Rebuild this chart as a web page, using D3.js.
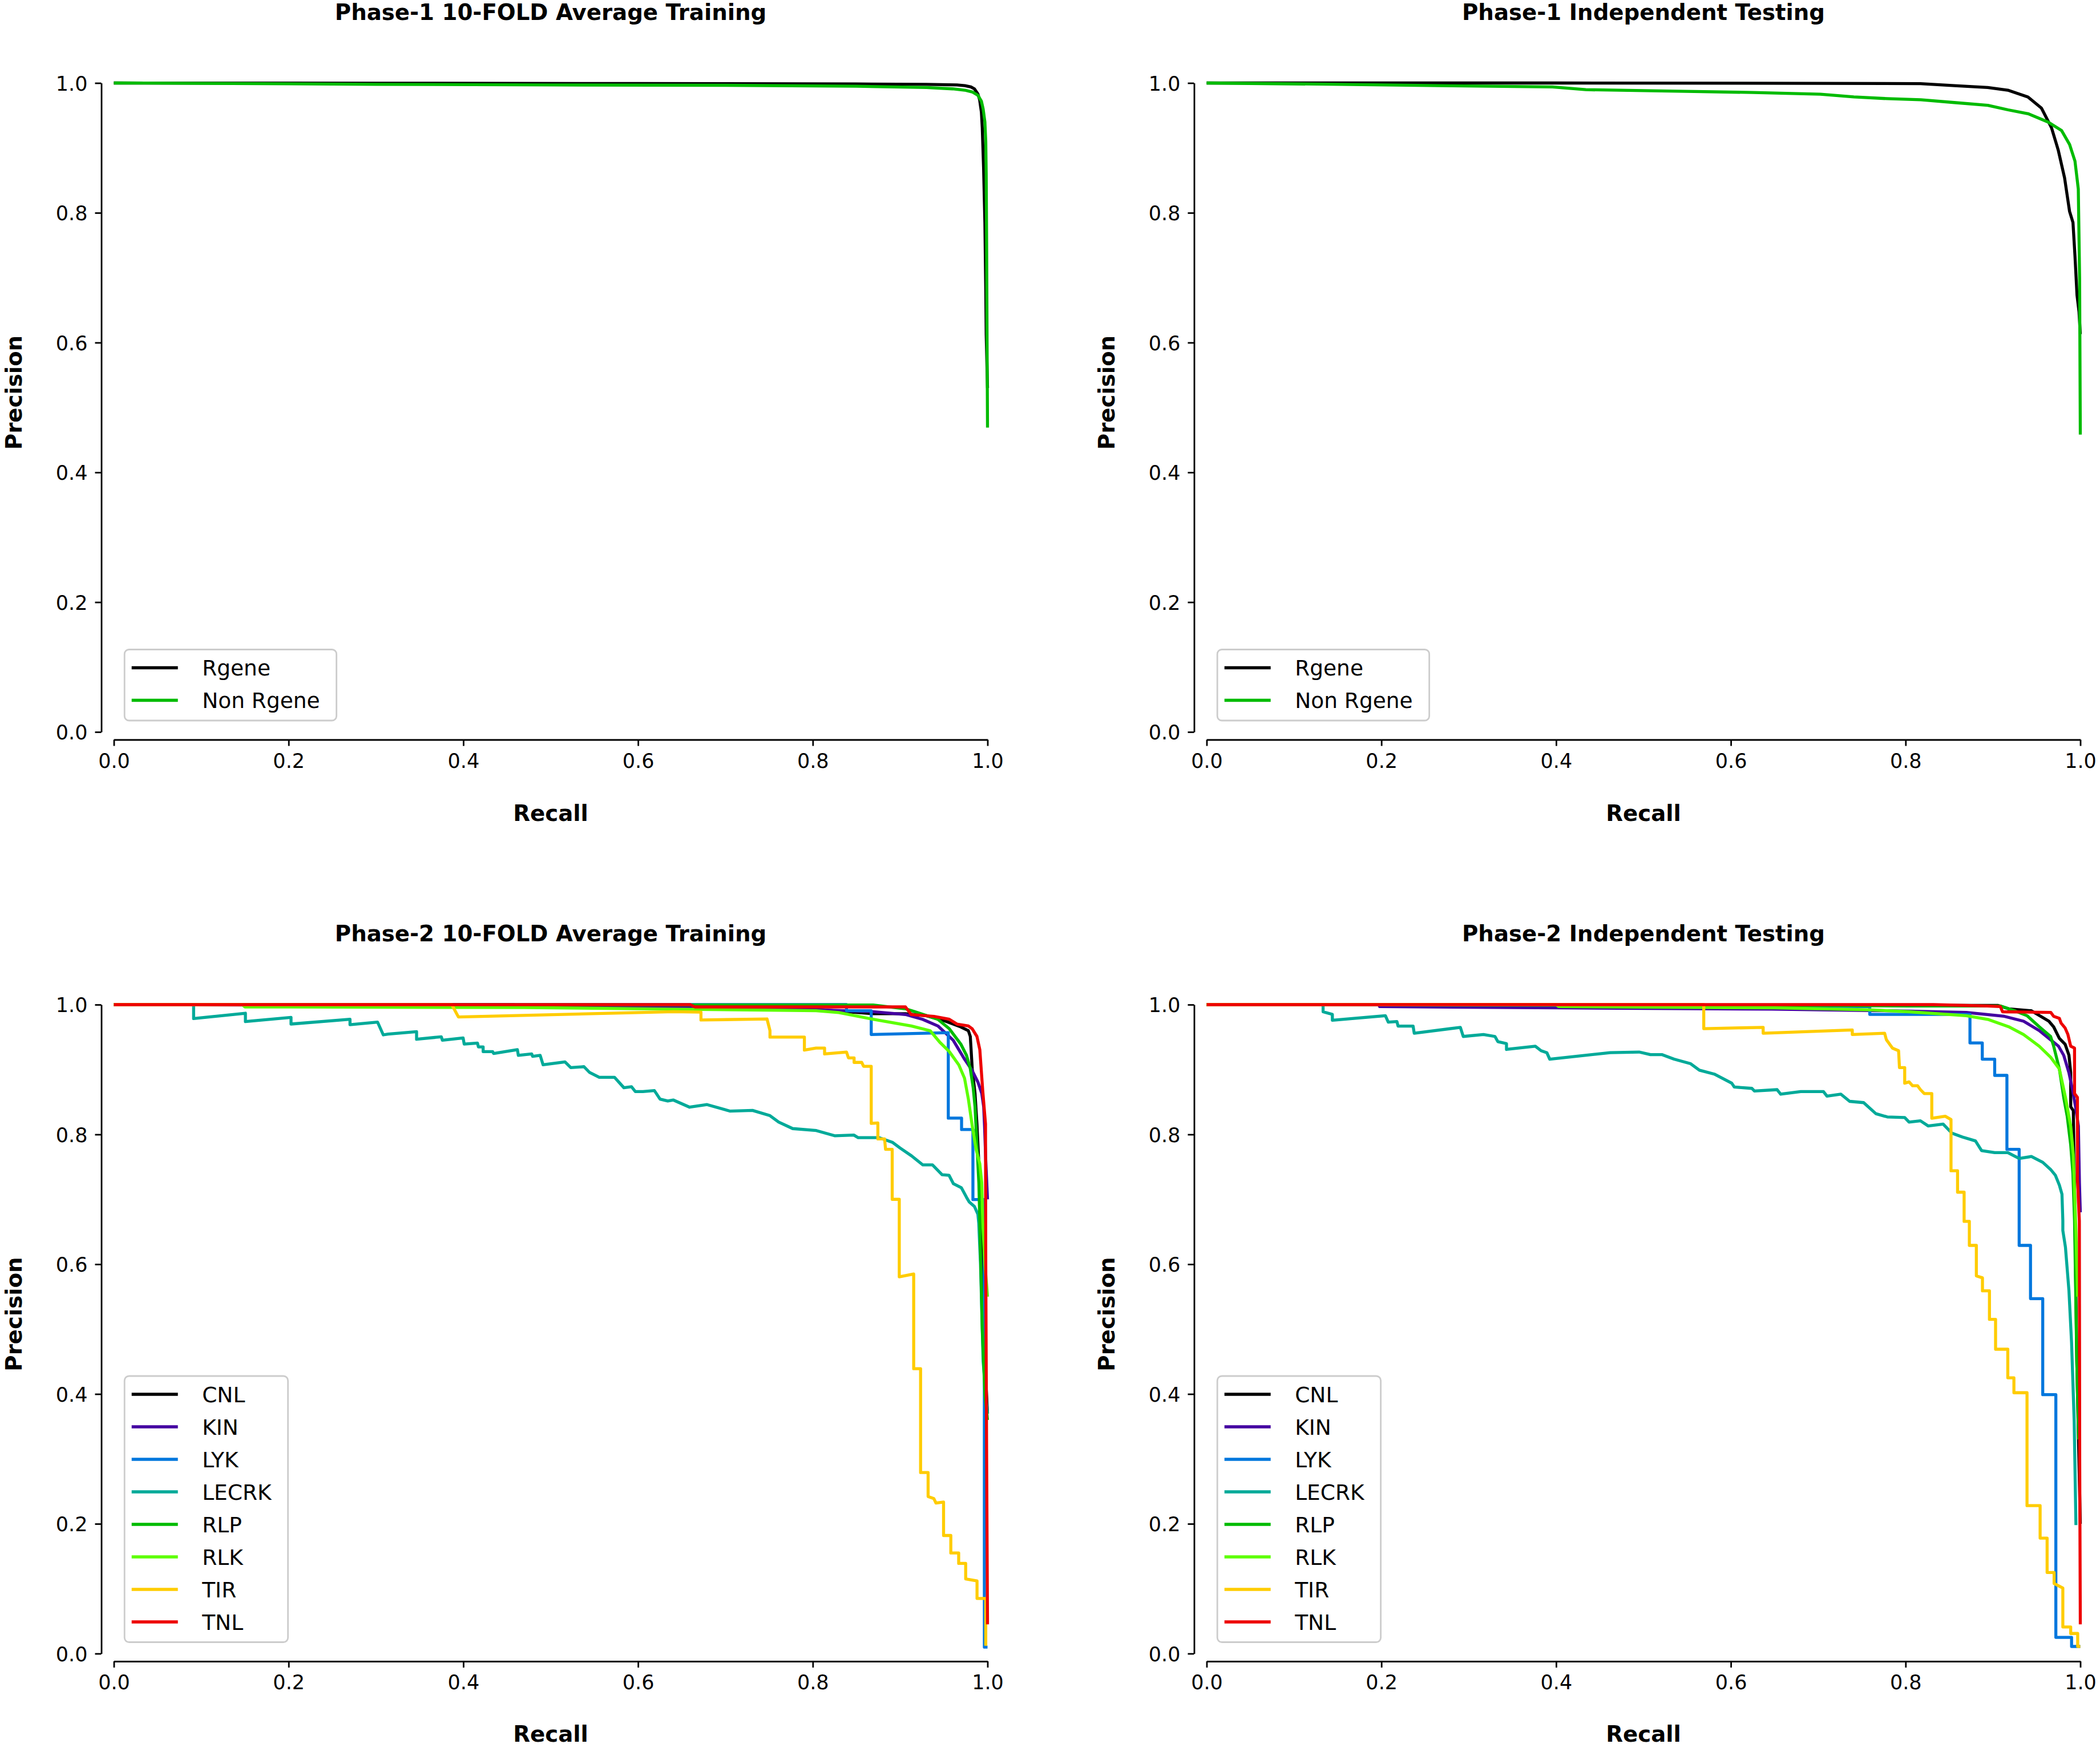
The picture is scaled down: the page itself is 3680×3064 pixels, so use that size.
<!DOCTYPE html>
<html>
<head>
<meta charset="utf-8">
<script src="https://cdn.jsdelivr.net/npm/d3@7"></script>
<style>
  body { margin: 0; background: #fff; }
  svg { display: block; }
</style>
</head>
<body>
<svg id="chart" width="3680" height="3064"></svg>
<script>
// ── categories & colours ─────────────────────────────────────────────────────
const phase1Classes = ['Rgene', 'Non Rgene'];
const phase1Colors = ['#000000', '#00bb00'];
const phase2Classes = ['CNL', 'KIN', 'LYK', 'LECRK', 'RLP', 'RLK', 'TIR', 'TNL'];
const phase2Colors = ['#000000', '#4400a1', '#0077dd', '#00aa99', '#00bb00', '#5dff00', '#ffcc00', '#ee0000'];

const axisTicks = [0, 0.2, 0.4, 0.6, 0.8, 1.0];

// ── series: [recall, precision] ─────────────────────────────────────────────
const p1TrainRgene = [[0,1],[0.3,0.9997],[0.6,0.9992],[0.85,0.9985],[0.93,0.998],[0.965,0.997],[0.974,0.996],
  [0.981,0.994],[0.985,0.991],[0.989,0.983],[0.991,0.974],[0.993,0.955],[0.994,0.931],[0.9955,0.87],[0.997,0.785],
  [0.998,0.68],[0.9985,0.613],[1.0,0.53]];
const p1TrainNonRgene = [[0,1],[0.1,0.9995],[0.3,0.998],[0.5,0.997],[0.7,0.9965],[0.85,0.995],[0.93,0.993],
  [0.96,0.991],[0.974,0.989],[0.983,0.986],[0.989,0.981],[0.993,0.972],[0.995,0.96],[0.997,0.94],[0.998,0.91],
  [0.9985,0.86],[0.999,0.75],[0.9995,0.6],[1.0,0.469]];

const p1TestRgene = [[0,1],[0.4,1.0],[0.7,0.9995],[0.817,0.999],[0.856,0.996],[0.894,0.993],[0.917,0.989],
  [0.94,0.9785],[0.9555,0.9613],[0.967,0.9312],[0.9747,0.8968],[0.982,0.8538],[0.9877,0.8022],[0.9916,0.785],
  [0.9939,0.7334],[0.9962,0.6733],[0.9985,0.6475],[1.0,0.613]];
const p1TestNonRgene = [[0,1],[0.127,0.9983],[0.2807,0.9957],[0.3957,0.994],[0.434,0.9897],[0.549,0.9871],
  [0.6258,0.9854],[0.7025,0.9828],[0.7408,0.9785],[0.7791,0.9759],[0.8175,0.9742],[0.8558,0.9699],[0.8942,0.9656],
  [0.9172,0.9587],[0.9402,0.9527],[0.9632,0.9398],[0.9785,0.9269],[0.9877,0.9054],[0.9939,0.8796],[0.9977,0.8366],
  [0.9992,0.699],[1.0,0.4583]];

const p2TrainCNL = [[0,1],[0.458,1],[0.462,0.9965],[0.4706,0.9965],[0.6,0.996],[0.8,0.993],[0.869,0.986],
  [0.906,0.986],[0.93,0.983],[0.952,0.9745],[0.9694,0.9657],[0.9781,0.9598],[0.9803,0.951],[0.9825,0.9013],
  [0.9857,0.8632],[0.9879,0.8163],[0.9901,0.7545],[0.994,0.6],[0.997,0.45],[1.0,0.37]];
const p2TrainKIN = [[0,1],[0.3,0.999],[0.6,0.997],[0.8037,0.992],[0.8691,0.9892],[0.9061,0.9848],[0.9257,0.9774],
  [0.9432,0.9672],[0.9607,0.9452],[0.9737,0.916],[0.9825,0.8984],[0.989,0.8807],[0.9934,0.8632],[0.9956,0.8427],
  [0.9966,0.8134],[0.998,0.76],[1.0,0.7]];
const p2TrainLYK = [[0,1],[0.8386,1],[0.8386,0.9907],[0.8669,0.9907],[0.8669,0.954],[0.9551,0.9569],[0.9551,0.8251],
  [0.9703,0.8251],[0.9703,0.8075],[0.9833,0.8075],[0.9833,0.6996],[0.9964,0.6996],[0.9964,0.01],[1.0,0.01]];
const p2TrainLECRK = [[0,1],[0.0913,1],[0.0913,0.9785],[0.1506,0.9868],[0.1506,0.9739],[0.2028,0.9804],
  [0.2028,0.9701],[0.2703,0.9774],[0.2703,0.9692],[0.3019,0.973],[0.3084,0.9534],[0.3138,0.9546],[0.3465,0.9584],
  [0.3465,0.9467],[0.3748,0.9505],[0.376,0.9452],[0.3998,0.9487],[0.401,0.9393],[0.4162,0.9408],[0.4173,0.9349],
  [0.4227,0.9349],[0.4227,0.9276],[0.4336,0.9276],[0.4347,0.9247],[0.4619,0.9306],[0.463,0.9218],[0.4783,0.9241],
  [0.4793,0.9203],[0.488,0.9218],[0.4913,0.9073],[0.5164,0.9117],[0.523,0.9029],[0.5381,0.9044],[0.5446,0.8954],
  [0.5556,0.8881],[0.573,0.8881],[0.5838,0.872],[0.5925,0.8735],[0.5969,0.8661],[0.6056,0.8661],[0.6187,0.8676],
  [0.6252,0.8544],[0.634,0.8515],[0.6405,0.853],[0.659,0.842],[0.679,0.846],[0.705,0.836],[0.731,0.837],
  [0.751,0.829],[0.761,0.819],[0.777,0.809],[0.804,0.806],[0.825,0.798],[0.847,0.799],[0.852,0.795],[0.876,0.795],
  [0.891,0.788],[0.9,0.779],[0.913,0.767],[0.926,0.753],[0.937,0.753],[0.948,0.738],[0.956,0.737],[0.961,0.724],
  [0.97,0.718],[0.976,0.703],[0.979,0.696],[0.985,0.689],[0.989,0.677],[0.99,0.663],[0.992,0.6],[0.995,0.45],[1.0,0.37]];
const p2TrainRLP = [[0,1],[0.6,0.9995],[0.8037,0.9994],[0.8691,0.9994],[0.9061,0.9936],[0.9167,0.9892],
  [0.9432,0.9774],[0.9563,0.9628],[0.9694,0.9393],[0.976,0.9218],[0.9803,0.9013],[0.9836,0.872],[0.9857,0.8427],
  [0.9879,0.784],[0.9901,0.7252],[0.9912,0.6665],[0.994,0.5],[0.997,0.4],[1.0,0.36]];
const p2TrainRLK = [[0,1],[0.147,1],[0.15,0.9965],[0.47,0.9955],[0.64,0.993],[0.8037,0.9907],[0.8298,0.9878],
  [0.8691,0.9774],[0.9127,0.9672],[0.9344,0.9598],[0.9453,0.9422],[0.9563,0.9276],[0.9672,0.907],[0.9737,0.8866],
  [0.9781,0.8544],[0.9825,0.8134],[0.9868,0.7782],[0.9912,0.7545],[0.9934,0.7252],[0.9945,0.6665],[0.997,0.6],
  [1.0,0.55]];
const p2TrainTIR = [[0,1],[0.3868,1],[0.3944,0.981],[0.6404,0.9892],[0.672,0.9884],[0.672,0.9763],[0.7476,0.978],
  [0.751,0.96],[0.751,0.95],[0.7904,0.95],[0.7904,0.93],[0.8037,0.933],[0.8135,0.933],[0.8135,0.924],[0.8386,0.927],
  [0.8408,0.918],[0.8473,0.918],[0.8473,0.911],[0.856,0.911],[0.8582,0.905],[0.8669,0.905],[0.8669,0.817],
  [0.8745,0.8177],[0.8745,0.793],[0.8822,0.793],[0.8833,0.777],[0.8909,0.777],[0.8909,0.7],[0.899,0.7],
  [0.899,0.5806],[0.9155,0.585],[0.9155,0.439],[0.9234,0.439],[0.9234,0.279],[0.932,0.279],[0.932,0.242],
  [0.9385,0.239],[0.941,0.232],[0.9497,0.2335],[0.9497,0.182],[0.958,0.182],[0.958,0.155],[0.967,0.155],
  [0.967,0.139],[0.975,0.139],[0.975,0.115],[0.988,0.112],[0.988,0.085],[0.998,0.085],[0.998,0.012]];
const p2TrainTNL = [[0,1],[0.66,1],[0.665,0.9965],[0.9061,0.9965],[0.9127,0.9848],[0.9388,0.9818],[0.9563,0.9774],
  [0.965,0.9701],[0.9781,0.9672],[0.9825,0.9628],[0.9879,0.951],[0.9912,0.9306],[0.9945,0.868],[0.9977,0.8163],
  [0.998,0.6],[0.999,0.3],[1.0,0.045]];

const p2TestCNL = [[0,1],[0.906,0.9987],[0.918,0.9936],[0.944,0.9906],[0.955,0.9818],[0.964,0.9745],
  [0.9695,0.9657],[0.976,0.948],[0.9826,0.939],[0.987,0.922],[0.989,0.8954],[0.989,0.8427],[0.992,0.8368],
  [0.9934,0.7108],[0.996,0.45],[1.0,0.2]];
const p2TestKIN = [[0,1],[0.197,1],[0.198,0.997],[0.403,0.995],[0.647,0.993],[0.759,0.991],[0.804,0.99],
  [0.8695,0.988],[0.913,0.982],[0.935,0.9745],[0.953,0.96],[0.964,0.948],[0.975,0.936],[0.981,0.922],[0.987,0.895],
  [0.9915,0.866],[0.9945,0.843],[0.9978,0.813],[0.999,0.725],[1.0,0.68]];
const p2TestLYK = [[0,1],[0.5,0.999],[0.759,0.997],[0.759,0.985],[0.8737,0.985],[0.8737,0.941],[0.8878,0.941],
  [0.8878,0.916],[0.902,0.916],[0.902,0.891],[0.916,0.891],[0.916,0.777],[0.93,0.777],[0.93,0.629],[0.943,0.629],
  [0.943,0.547],[0.957,0.547],[0.957,0.399],[0.972,0.399],[0.972,0.025],[0.99,0.025],[0.99,0.011],[1.0,0.011]];
const p2TestLECRK = [[0,1],[0.1333,1],[0.1333,0.989],[0.1439,0.985],[0.1439,0.976],[0.2046,0.983],[0.2079,0.973],
  [0.2178,0.974],[0.2191,0.967],[0.2363,0.967],[0.2376,0.956],[0.2904,0.965],[0.2937,0.951],[0.3168,0.954],
  [0.33,0.951],[0.3333,0.943],[0.3432,0.94],[0.3432,0.931],[0.3762,0.936],[0.3828,0.929],[0.3894,0.926],
  [0.3927,0.916],[0.462,0.926],[0.495,0.927],[0.508,0.923],[0.521,0.923],[0.535,0.916],[0.554,0.909],[0.564,0.899],
  [0.581,0.893],[0.591,0.886],[0.601,0.879],[0.604,0.873],[0.624,0.871],[0.627,0.867],[0.653,0.869],[0.657,0.862],
  [0.68,0.866],[0.706,0.866],[0.71,0.859],[0.726,0.862],[0.736,0.851],[0.752,0.849],[0.766,0.832],[0.779,0.827],
  [0.799,0.826],[0.804,0.819],[0.817,0.821],[0.826,0.813],[0.843,0.816],[0.853,0.802],[0.865,0.796],[0.88,0.79],
  [0.887,0.775],[0.902,0.772],[0.917,0.772],[0.93,0.763],[0.944,0.766],[0.957,0.757],[0.966,0.746],[0.9715,0.737],
  [0.976,0.722],[0.979,0.708],[0.98,0.667],[0.98,0.652],[0.983,0.626],[0.987,0.559],[0.99,0.479],[0.993,0.358],
  [0.995,0.198]];
const p2TestRLP = [[0,1],[0.6,0.999],[0.804,0.998],[0.9085,0.998],[0.926,0.99],[0.939,0.983],[0.953,0.966],
  [0.966,0.951],[0.9695,0.936],[0.976,0.901],[0.981,0.857],[0.985,0.828],[0.989,0.784],[0.9915,0.74],
  [0.9934,0.667],[0.996,0.45],[0.998,0.33]];
const p2TestRLK = [[0,1],[0.4,1],[0.403,0.997],[0.65,0.995],[0.76,0.992],[0.804,0.989],[0.8695,0.983],
  [0.895,0.977],[0.918,0.966],[0.935,0.954],[0.953,0.936],[0.966,0.919],[0.976,0.901],[0.983,0.857],[0.989,0.813],
  [0.992,0.769],[0.995,0.65],[0.997,0.55]];
const p2TestTIR = [[0,1],[0.569,1],[0.569,0.963],[0.637,0.965],[0.637,0.956],[0.739,0.961],[0.739,0.954],
  [0.776,0.956],[0.778,0.946],[0.785,0.933],[0.792,0.929],[0.793,0.903],[0.799,0.903],[0.799,0.879],[0.804,0.881],
  [0.808,0.875],[0.8137,0.875],[0.817,0.869],[0.8214,0.863],[0.83,0.863],[0.83,0.825],[0.8454,0.828],[0.852,0.823],
  [0.852,0.744],[0.8595,0.744],[0.8595,0.711],[0.867,0.711],[0.867,0.666],[0.873,0.666],[0.873,0.629],[0.881,0.629],
  [0.881,0.582],[0.888,0.579],[0.888,0.559],[0.896,0.559],[0.896,0.515],[0.903,0.515],[0.903,0.469],[0.917,0.469],
  [0.917,0.425],[0.924,0.425],[0.924,0.402],[0.939,0.402],[0.939,0.228],[0.954,0.228],[0.954,0.178],[0.962,0.178],
  [0.962,0.125],[0.97,0.125],[0.97,0.108],[0.98,0.101],[0.98,0.041],[0.989,0.041],[0.989,0.031],[0.997,0.031],
  [0.997,0.011],[1.0,0.011]];
const p2TestTNL = [[0,1],[0.832,1],[0.8935,0.998],[0.9085,0.997],[0.911,0.989],[0.9662,0.988],[0.9695,0.982],
  [0.976,0.979],[0.978,0.9716],[0.9826,0.964],[0.9858,0.954],[0.989,0.936],[0.9934,0.933],[0.9934,0.863],
  [0.9967,0.857],[0.9967,0.731],[0.9989,0.667],[0.9993,0.3],[1.0,0.045]];

// ── layout (px) ───────────────────────────────────────────────────────────────
const PANEL_W = 1531;
const PANEL_H = 1137.5;
const SPINE_DX = 22;     // left spine pushed out of the plot area
const SPINE_DY = 13.5;   // bottom spine pushed down
const TICK_LEN = 11;
const LINE_W = 5.3;
const FONT = 'DejaVu Sans, sans-serif';

const panels = [
  { title: 'Phase-1 10-FOLD Average Training', x0: 199.5, top: 145.5, titleY: 35, labelY: 1439,
    names: phase1Classes, colors: phase1Colors, series: [p1TrainRgene, p1TrainNonRgene] },
  { title: 'Phase-1 Independent Testing', x0: 2114.5, top: 145.5, titleY: 35, labelY: 1439,
    names: phase1Classes, colors: phase1Colors, series: [p1TestRgene, p1TestNonRgene] },
  { title: 'Phase-2 10-FOLD Average Training', x0: 199.5, top: 1761, titleY: 1650, labelY: 3053,
    names: phase2Classes, colors: phase2Colors,
    series: [p2TrainCNL, p2TrainKIN, p2TrainLYK, p2TrainLECRK, p2TrainRLP, p2TrainRLK, p2TrainTIR, p2TrainTNL] },
  { title: 'Phase-2 Independent Testing', x0: 2114.5, top: 1761, titleY: 1650, labelY: 3053,
    names: phase2Classes, colors: phase2Colors,
    series: [p2TestCNL, p2TestKIN, p2TestLYK, p2TestLECRK, p2TestRLP, p2TestRLK, p2TestTIR, p2TestTNL] },
];

const svg = d3.select('#chart');
svg.append('rect').attr('width', 3680).attr('height', 3064).attr('fill', '#fff');

const fmt = d3.format('.1f');

function drawPanel(p) {
  const x = d3.scaleLinear().domain([0, 1]).range([p.x0, p.x0 + PANEL_W]);
  const y = d3.scaleLinear().domain([0, 1]).range([p.top + PANEL_H, p.top]);
  const g = svg.append('g');

  // ── axes (trimmed, offset spines) ─────────────────────────────────────────
  const yAxis = g.append('g')
    .attr('transform', `translate(${p.x0 - SPINE_DX},0)`)
    .call(d3.axisLeft(y).tickValues(axisTicks).tickFormat(fmt).tickSize(TICK_LEN).tickSizeOuter(0).tickPadding(13));
  const xAxis = g.append('g')
    .attr('transform', `translate(0,${p.top + PANEL_H + SPINE_DY})`)
    .call(d3.axisBottom(x).tickValues(axisTicks).tickFormat(fmt).tickSize(TICK_LEN).tickSizeOuter(0).tickPadding(13.5));

  [yAxis, xAxis].forEach((ax) => {
    ax.selectAll('path, line').attr('stroke', '#000').attr('stroke-width', 2.8);
    ax.selectAll('text').attr('font-family', FONT).attr('font-size', 35).attr('fill', '#000');
  });
  yAxis.selectAll('text').attr('dy', '0.36em');

  // ── title & axis labels ───────────────────────────────────────────────────
  const midX = p.x0 + PANEL_W / 2;
  g.append('text')
    .attr('x', midX).attr('y', p.titleY)
    .attr('text-anchor', 'middle')
    .attr('font-family', FONT).attr('font-size', 38.7).attr('font-weight', 'bold')
    .text(p.title);

  g.append('text')
    .attr('x', midX).attr('y', p.labelY)
    .attr('text-anchor', 'middle')
    .attr('font-family', FONT).attr('font-size', 38.7).attr('font-weight', 'bold')
    .text('Recall');

  const ylx = p.x0 - 161.5;
  const yly = p.top + 542.5;
  g.append('text')
    .attr('transform', `translate(${ylx},${yly}) rotate(-90)`)
    .attr('text-anchor', 'middle')
    .attr('font-family', FONT).attr('font-size', 38.7).attr('font-weight', 'bold')
    .text('Precision');

  // ── curves ────────────────────────────────────────────────────────────────
  const line = d3.line().x((d) => x(d[0])).y((d) => y(d[1]));
  p.series.forEach((s, i) => {
    g.append('path')
      .attr('d', line(s))
      .attr('fill', 'none')
      .attr('stroke', p.colors[i])
      .attr('stroke-width', LINE_W)
      .attr('stroke-linejoin', 'round')
      .attr('stroke-linecap', 'butt');
  });

  // ── legend ────────────────────────────────────────────────────────────────
  const ROW_H = 57;
  const PAD_TOP = 32;
  const PAD_BOT = 35.5;
  const n = p.names.length;
  const boxH = PAD_TOP + (n - 1) * ROW_H + PAD_BOT;
  const boxX = p.x0 + 18.7;
  const boxY = p.top + PANEL_H - 20 - boxH;

  const leg = g.append('g');
  const frame = leg.append('rect')
    .attr('x', boxX).attr('y', boxY)
    .attr('height', boxH)
    .attr('rx', 8)
    .attr('fill', '#fff').attr('fill-opacity', 0.8)
    .attr('stroke', '#cccccc').attr('stroke-width', 2.8);

  let maxW = 0;
  p.names.forEach((name, i) => {
    const cy = boxY + PAD_TOP + i * ROW_H;
    leg.append('line')
      .attr('x1', boxX + 12.5).attr('x2', boxX + 93.5)
      .attr('y1', cy).attr('y2', cy)
      .attr('stroke', p.colors[i]).attr('stroke-width', LINE_W);
    const t = leg.append('text')
      .attr('x', boxX + 136).attr('y', cy + 13.5)
      .attr('font-family', FONT).attr('font-size', 37.5).attr('fill', '#000')
      .text(name);
    maxW = Math.max(maxW, t.node().getComputedTextLength());
  });
  frame.attr('width', 136 + maxW + 29);
}

panels.forEach(drawPanel);
</script>
</body>
</html>
